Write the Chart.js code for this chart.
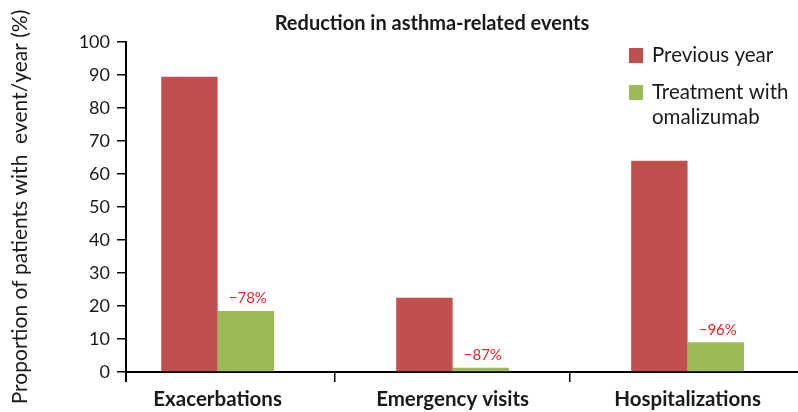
<!DOCTYPE html>
<html>
<head>
<meta charset="utf-8">
<script src="https://cdn.jsdelivr.net/npm/chart.js@4"></script>
<style>
    html, body { margin: 0; padding: 0; background: #fff; overflow: hidden; }
    #events-chart { display: block; }
</style>
</head>
<body>
<canvas id="events-chart" width="798" height="412"></canvas>
<script>
// --- Asthma events: previous year vs omalizumab ---
const categories   = ['Exacerbations', 'Emergency visits', 'Hospitalizations'];
const previousYear = [89.5, 22.5, 64];
const omalizumab   = [18.5, 1.3, 9];
const reductions   = ['\u221278%', '\u221287%', '\u221296%'];
const seriesNames  = [['Previous year'], ['Treatment with', 'omalizumab']];

const FONT  = 'Lato, "Open Sans", sans-serif';
const INK   = '#1a1a1a';
const RED   = '#c0504d';
const GREEN = '#9bbb59';

// bars are placed on the category index (0, 1, 2)
const toPoints = arr => arr.map((v, i) => ({ x: i, y: v }));

// title, side legend and the little reduction labels
const extras = {
    id: 'extras',
    afterDatasetsDraw(chart) {
        const { ctx, chartArea } = chart;
        ctx.save();

        // percentage change above each green bar
        ctx.font = '15px ' + FONT;
        ctx.fillStyle = '#e0262b';
        ctx.textAlign = 'center';
        ctx.textBaseline = 'bottom';
        chart.getDatasetMeta(1).data.forEach((bar, i) => {
            ctx.fillText(reductions[i], bar.x + 2, bar.y - 5);
        });

        // title
        ctx.font = 'bold 20px ' + FONT;
        ctx.fillStyle = INK;
        ctx.textBaseline = 'middle';
        ctx.fillText('Reduction in asthma-related events', 432, 24);

        // legend on the right
        ctx.textAlign = 'left';
        ctx.font = '20.5px ' + FONT;
        const lx = chartArea.right - 169;
        let ly = 55;
        chart.data.datasets.forEach((ds, i) => {
            ctx.fillStyle = ds.backgroundColor;
            ctx.fillRect(lx, ly - 7, 14, 15);
            ctx.fillStyle = INK;
            seriesNames[i].forEach((line, j) => ctx.fillText(line, lx + 23, ly + j * 25));
            ly += 37;
        });

        // y axis runs a bit below the x axis
        ctx.strokeStyle = '#000';
        ctx.lineWidth = 2;
        ctx.beginPath();
        ctx.moveTo(chartArea.left, chartArea.bottom);
        ctx.lineTo(chartArea.left, chartArea.bottom + 10);
        ctx.stroke();
        ctx.restore();
    }
};

new Chart(document.getElementById('events-chart'), {
    type: 'bar',
    data: {
        datasets: [
            {
                label: 'Previous year',
                data: toPoints(previousYear),
                backgroundColor: RED,
                borderWidth: 0
            },
            {
                label: 'Treatment with omalizumab',
                data: toPoints(omalizumab),
                backgroundColor: GREEN,
                borderWidth: 0
            }
        ]
    },
    options: {
        responsive: false,
        animation: false,
        categoryPercentage: 0.48,
        barPercentage: 1,
        layout: { padding: { top: 42, right: 0, bottom: 0, left: 0 } },
        plugins: {
            legend: { display: false },
            title: { display: false },
            tooltip: { enabled: false }
        },
        scales: {
            x: {
                type: 'linear',
                offset: false,
                bounds: 'data',
                min: -0.39,
                max: 2.47,
                afterBuildTicks: scale => { scale.ticks = categories.map((c, i) => ({ value: i })); },
                afterFit: scale => { scale.height = 40; },
                border: { color: '#000', width: 2 },
                grid: { offset: true, drawOnChartArea: false, tickLength: 10, color: '#000', lineWidth: 1.5 },
                ticks: {
                    autoSkip: false,
                    maxRotation: 0,
                    padding: 5,
                    color: INK,
                    font: { family: FONT, size: 20.5, weight: 'bold' },
                    callback: v => categories[v]
                }
            },
            y: {
                min: 0,
                max: 100,
                afterFit: scale => { scale.width = 126; },
                border: { color: '#000', width: 2 },
                grid: { drawOnChartArea: false, tickLength: 9, color: '#000', lineWidth: 1.5 },
                ticks: { stepSize: 10, padding: 7, color: INK, font: { family: FONT, size: 18 } },
                title: {
                    display: true,
                    text: 'Proportion of patients with  event/year (%)',
                    color: INK,
                    font: { family: FONT, size: 21 },
                    padding: { top: 8, bottom: 0 }
                }
            }
        }
    },
    plugins: [extras]
});
</script>
</body>
</html>
